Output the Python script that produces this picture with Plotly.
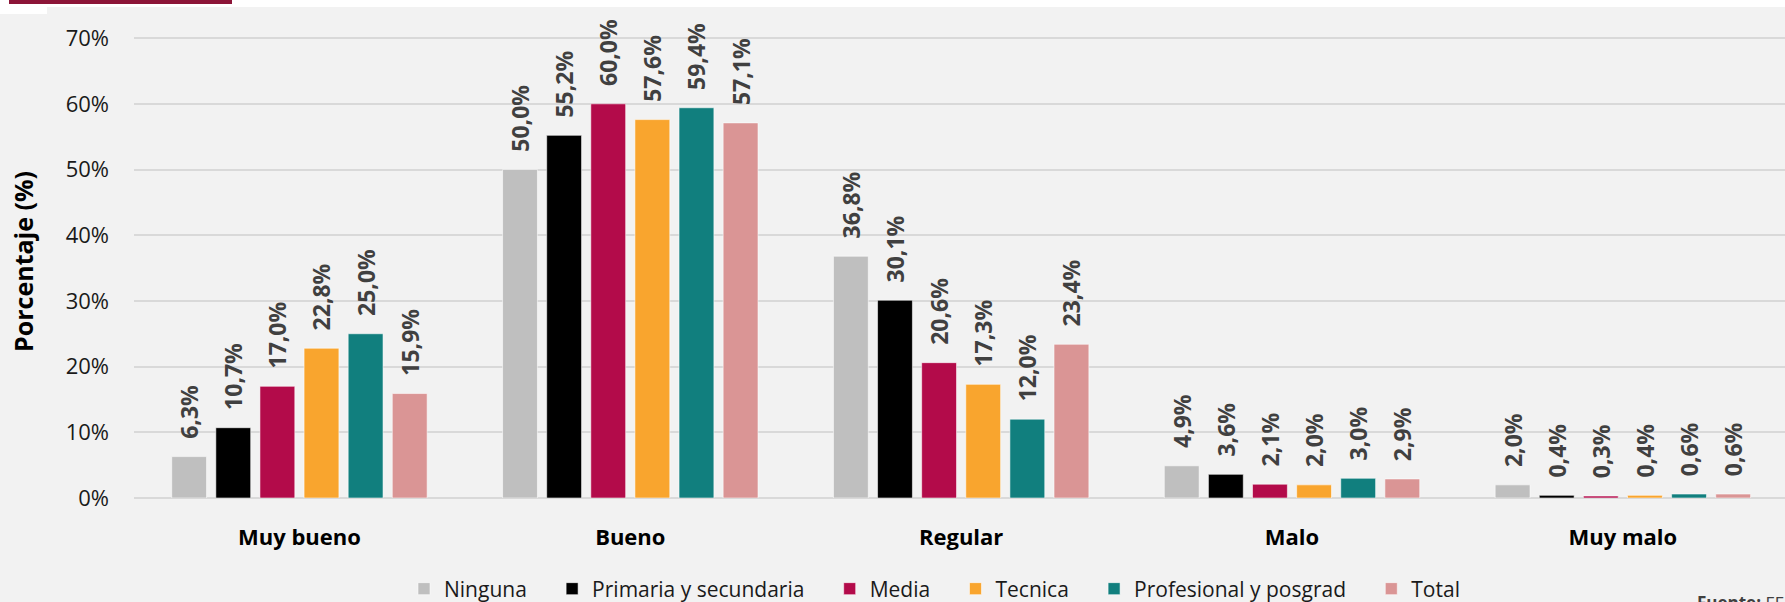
import plotly.graph_objects as go

# categories on the x axis
categorias = ["Muy bueno", "Bueno", "Regular", "Malo", "Muy malo"]

# percentage per education level
ninguna = [6.3, 50.0, 36.8, 4.9, 2.0]
primaria_secundaria = [10.7, 55.2, 30.1, 3.6, 0.4]
media = [17.0, 60.0, 20.6, 2.1, 0.3]
tecnica = [22.8, 57.6, 17.3, 2.0, 0.4]
profesional = [25.0, 59.4, 12.0, 3.0, 0.6]
total = [15.9, 57.1, 23.4, 2.9, 0.6]

# y axis ticks
y_ticks = [0, 10, 20, 30, 40, 50, 60, 70]
y_tick_labels = ["0%", "10%", "20%", "30%", "40%", "50%", "60%", "70%"]

series = [
    ("Ninguna", ninguna, "#bfbfbf"),
    ("Primaria y secundaria", primaria_secundaria, "#000000"),
    ("Media", media, "#b30b4a"),
    ("Tecnica", tecnica, "#f9a52e"),
    ("Profesional y posgrad", profesional, "#117f7e"),
    ("Total", total, "#da9595"),
]

FONT = "Open Sans"
# invisible padding: lifts the rotated labels off the bars, spaces legend items
PAD = "<span style='color:rgba(0,0,0,0)'>--</span>"
LEG_PAD = "<span style='color:rgba(0,0,0,0)'>---</span>"

fig = go.Figure()
for name, values, color in series:
    fig.add_trace(go.Bar(
        x=categorias,
        y=values,
        name=name + LEG_PAD,
        marker=dict(color=color, line=dict(color="rgba(255,255,255,0.55)", width=1)),
        texttemplate=PAD + "%{y:.1f}%",
        textposition="outside",
        textangle=-90,
        constraintext="none",
        cliponaxis=False,
        textfont=dict(family=FONT, size=23, color="#404040", weight="bold"),
    ))

W, H = 1785, 602
L, R, T, B = 134, 0, 25, 104
pw = W - L - R
ph = H - T - B


def px_x(x):
    return (x - L) / pw


def px_y(y):
    return (H - B - y) / ph


# white strip and maroon accent at the very top
fig.add_shape(type="rect", xref="paper", yref="paper",
              x0=px_x(0), x1=px_x(W), y0=px_y(7), y1=px_y(0),
              fillcolor="white", line_width=0)
fig.add_shape(type="rect", xref="paper", yref="paper",
              x0=px_x(0), x1=px_x(47), y0=px_y(14), y1=px_y(7),
              fillcolor="white", line_width=0)
fig.add_shape(type="rect", xref="paper", yref="paper",
              x0=px_x(9), x1=px_x(232), y0=px_y(4), y1=px_y(0),
              fillcolor="#8c1538", line_width=0)

fig.add_annotation(
    xref="paper", yref="paper", x=px_x(1695), y=px_y(589),
    xanchor="left", yanchor="top", showarrow=False,
    text="<b>Fuente:</b> EE",
    font=dict(family=FONT, size=17, color="#404040"),
)

fig.update_layout(
    width=W, height=H,
    margin=dict(l=L, r=R, t=T, b=B, autoexpand=False),
    paper_bgcolor="#f2f2f2",
    plot_bgcolor="#f2f2f2",
    barmode="group",
    bargap=0.2,
    bargroupgap=0.21,
    separators=",.",
    font=dict(family=FONT, color="#1a1a1a"),
    showlegend=True,
    legend=dict(
        orientation="h",
        xref="container", yref="container",
        x=945 / W, xanchor="center",
        y=1 - 589 / H, yanchor="middle",
        font=dict(family=FONT, size=21, color="#1a1a1a"),
        bgcolor="rgba(0,0,0,0)",
    ),
)

fig.update_xaxes(
    range=[-0.5, 4.49],
    showgrid=False,
    showline=False,
    tickfont=dict(family=FONT, size=22, color="#000000", weight="bold"),
    ticklabelstandoff=24,
)

fig.update_yaxes(
    range=[0, 72],
    tickmode="array",
    tickvals=y_ticks,
    ticktext=y_tick_labels,
    showgrid=True,
    gridcolor="#d9d9d9",
    gridwidth=1.5,
    zeroline=True,
    zerolinecolor="#d9d9d9",
    zerolinewidth=1.5,
    showline=False,
    tickfont=dict(family=FONT, size=22, color="#1a1a1a"),
    ticklabelstandoff=24,
    automargin=False,
    title=dict(text="<b>Porcentaje (%)</b>", standoff=24,
               font=dict(family=FONT, size=25, color="#000000")),
)

fig.write_html("out.html", config={"displayModeBar": False},
               post_script="document.body.style.margin='0';")
